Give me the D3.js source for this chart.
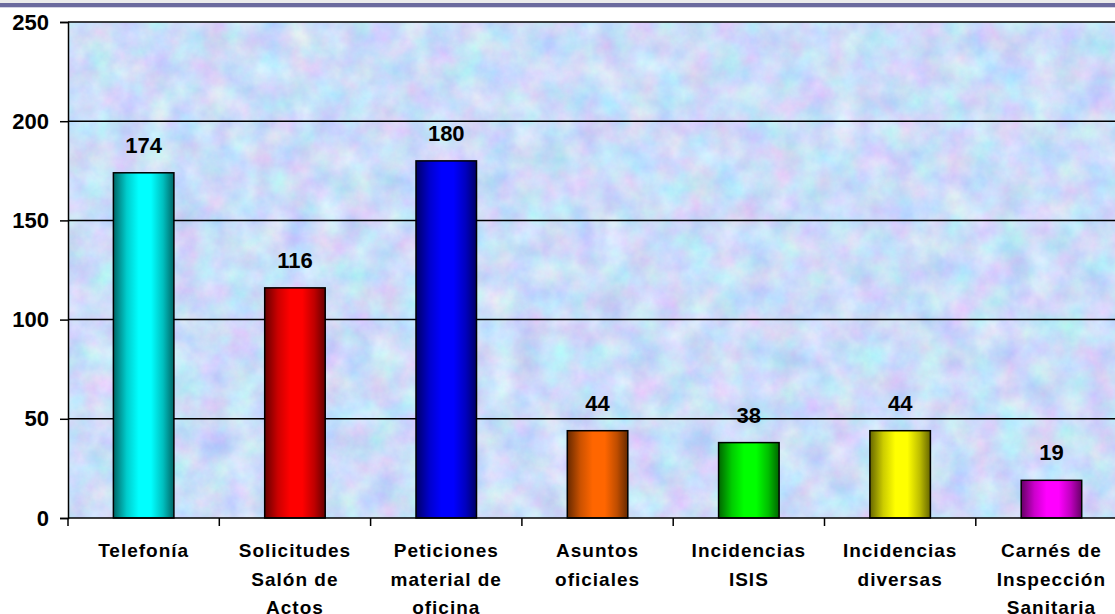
<!DOCTYPE html>
<html>
<head>
<meta charset="utf-8">
<script src="https://cdn.jsdelivr.net/npm/d3@7"></script>
<style>
  html, body { margin: 0; padding: 0; background: #ffffff; }
  svg { display: block; }
  text { font-family: "Liberation Sans", Arial, sans-serif; font-weight: bold; fill: #000; }
</style>
</head>
<body>
<svg id="chart" width="1115" height="614"></svg>
<script>
// Consultas atendidas por tipo
const categories = [
  ["Telefonía"],
  ["Solicitudes", "Salón de", "Actos"],
  ["Peticiones", "material de", "oficina"],
  ["Asuntos", "oficiales"],
  ["Incidencias", "ISIS"],
  ["Incidencias", "diversas"],
  ["Carnés de", "Inspección", "Sanitaria"]
];
const values = [174, 116, 180, 44, 38, 44, 19];
const barColors = ["#00ffff", "#ff0000", "#0000ff", "#ff6600", "#00ff00", "#ffff00", "#ff00ff"];
const yTicks = [0, 50, 100, 150, 200, 250];

const W = 1115, H = 614;
const plot = { left: 68, top: 22, bottom: 518 };
const bandW = 151.3;

const svg = d3.select("#chart");
const defs = svg.append("defs");

// pastel "paper" texture for the plot area
const tex = defs.append("filter").attr("id", "paper")
  .attr("x", 0).attr("y", 0).attr("width", 1).attr("height", 1)
  .attr("color-interpolation-filters", "sRGB");
tex.append("feTurbulence").attr("type", "fractalNoise")
  .attr("baseFrequency", "0.035").attr("numOctaves", 5).attr("seed", 7).attr("result", "n");
tex.append("feColorMatrix").attr("in", "n").attr("type", "matrix")
  .attr("values", "0.3 0 0 0 0.645  0 0.25 0 0 0.74  0 0 0.1 0 0.925  0 0 0 0 1");

// horizontal shading for the bars: dark edges, bright band left of centre
function shade(c, k) { return d3.interpolateRgb(c, "#000")(k); }
barColors.forEach((c, i) => {
  const g = defs.append("linearGradient").attr("id", "bar" + i)
    .attr("x1", "0%").attr("x2", "100%").attr("y1", "0%").attr("y2", "0%");
  g.append("stop").attr("offset", "0%").attr("stop-color", shade(c, 0.6));
  g.append("stop").attr("offset", "22%").attr("stop-color", shade(c, 0.2));
  g.append("stop").attr("offset", "42%").attr("stop-color", c);
  g.append("stop").attr("offset", "62%").attr("stop-color", c);
  g.append("stop").attr("offset", "82%").attr("stop-color", shade(c, 0.25));
  g.append("stop").attr("offset", "100%").attr("stop-color", shade(c, 0.6));
});

// header band
svg.append("rect").attr("x", 0).attr("y", 0).attr("width", W).attr("height", 3).attr("fill", "#ebebeb");
svg.append("rect").attr("x", 0).attr("y", 3).attr("width", W).attr("height", 4.3).attr("fill", "#6b6a9e");

const x = d3.scaleBand()
  .domain(d3.range(categories.length))
  .range([plot.left, plot.left + bandW * categories.length])
  .paddingInner(0.6).paddingOuter(0.3);
const y = d3.scaleLinear().domain([0, 250]).range([plot.bottom, plot.top]);

// plot background
svg.append("rect")
  .attr("x", plot.left).attr("y", plot.top)
  .attr("width", W - plot.left).attr("height", plot.bottom - plot.top)
  .attr("filter", "url(#paper)");

// gridlines
svg.append("g").selectAll("line").data(yTicks.filter(d => d > 0)).join("line")
  .attr("x1", plot.left).attr("x2", W)
  .attr("y1", d => y(d)).attr("y2", d => y(d))
  .attr("stroke", "#000").attr("stroke-width", 1.5);

// y axis
const yAxis = svg.append("g").attr("transform", `translate(${plot.left},0)`)
  .call(d3.axisLeft(y).tickValues(yTicks).tickSize(8).tickPadding(11));
yAxis.select(".domain").attr("stroke", "#000").attr("stroke-width", 1.5);
yAxis.selectAll(".tick line").attr("stroke", "#000").attr("stroke-width", 1.5);
yAxis.selectAll(".tick text").attr("font-size", null).attr("font-family", null)
  .style("font-size", "22px")
  .style("font-family", "'Liberation Sans', Arial, sans-serif").style("font-weight", "bold");

// bars
svg.append("g").selectAll("rect").data(values).join("rect")
  .attr("x", (d, i) => x(i)).attr("width", x.bandwidth())
  .attr("y", d => y(d)).attr("height", d => y(0) - y(d))
  .attr("fill", (d, i) => `url(#bar${i})`)
  .attr("stroke", "#000").attr("stroke-width", 1.5);

// value labels
svg.append("g").selectAll("text").data(values).join("text")
  .attr("x", (d, i) => x(i) + x.bandwidth() / 2)
  .attr("y", d => y(d) - 20)
  .attr("text-anchor", "middle").style("font-size", "22px")
  .text(d => d);

// x axis line and category ticks
svg.append("line").attr("x1", plot.left).attr("x2", W)
  .attr("y1", plot.bottom).attr("y2", plot.bottom)
  .attr("stroke", "#000").attr("stroke-width", 1.5);
svg.append("g").selectAll("line").data(d3.range(categories.length + 1)).join("line")
  .attr("x1", i => plot.left + i * bandW).attr("x2", i => plot.left + i * bandW)
  .attr("y1", plot.bottom).attr("y2", plot.bottom + 8)
  .attr("stroke", "#000").attr("stroke-width", 1.5);

// category labels
const cat = svg.append("g").selectAll("text").data(categories).join("text")
  .attr("text-anchor", "middle").style("font-size", "19px")
  .style("letter-spacing", "1px")
  .attr("transform", (d, i) => `translate(${x(i) + x.bandwidth() / 2},557)`);
cat.selectAll("tspan").data(d => d).join("tspan")
  .attr("x", 0).attr("y", (d, j) => j * 28.5)
  .text(d => d);
</script>
</body>
</html>
